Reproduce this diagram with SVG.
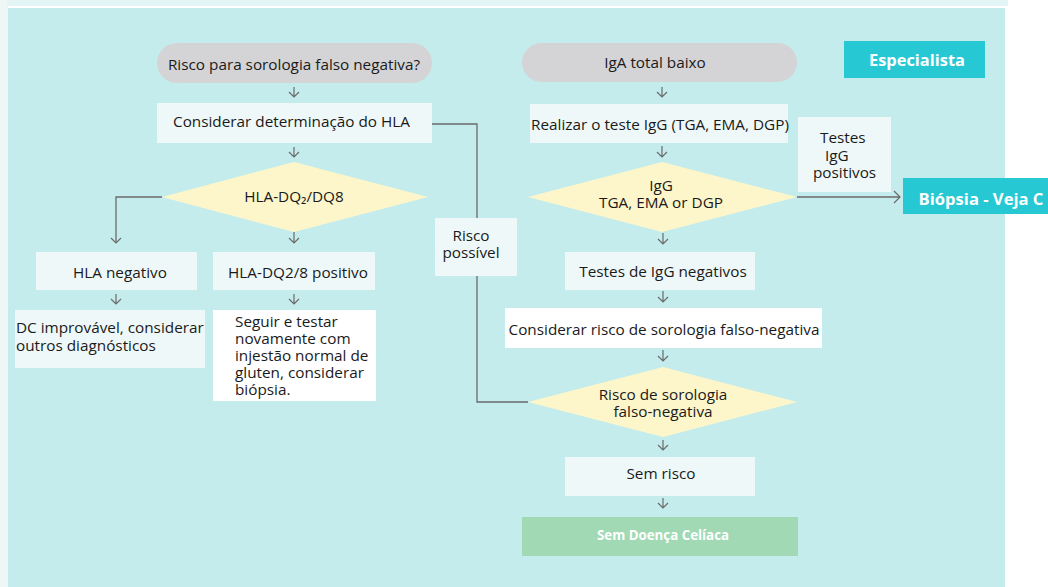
<svg xmlns="http://www.w3.org/2000/svg" width="1048" height="587" viewBox="0 0 1048 587">
<defs>
<style>
.t{font-family:"Open Sans","Liberation Sans",sans-serif;font-size:15.3px;fill:#1a1a1a}
.c{text-anchor:middle}
.w{font-family:"Open Sans","Liberation Sans",sans-serif;font-weight:bold;fill:#ffffff;text-anchor:middle}
.box{fill:#eef8f8}
.wb{fill:#ffffff}
.pill{fill:#d4d4d6}
.dia{fill:#fdf6ca}
.teal{fill:#26c9d3}
.ln{fill:none;stroke:#6a6a6a;stroke-width:1.3}
.ar{fill:none;stroke:#6a6a6a;stroke-width:1.2}
</style>
</defs>
<rect x="0" y="0" width="1048" height="587" fill="#ffffff"/>
<rect x="0" y="0" width="8" height="587" fill="#eef6f6"/>
<rect x="7" y="0" width="1001" height="6" fill="#e4f5f5"/>
<rect x="8" y="8" width="997" height="579" fill="#c5ecec"/>

<g id="connectors">
<path class="ln" d="M432,124 H477 V402 H528"/>
<path class="ln" d="M162,197 H116 V243"/>
<path class="ar" d="M111,238 L116,243 L121,238"/>
<path class="ln" d="M797,197 H900"/>
<path class="ar" d="M894,191 L900,197 L894,203"/>
<path class="ar" d="M294,87 V97 M289,92 L294,97 L299,92"/>
<path class="ar" d="M294,147 V157 M289,152 L294,157 L299,152"/>
<path class="ar" d="M294,232 V243 M289,238 L294,243 L299,238"/>
<path class="ar" d="M116,294 V304 M111,299 L116,304 L121,299"/>
<path class="ar" d="M294,294 V304 M289,299 L294,304 L299,299"/>
<path class="ar" d="M662,87 V97 M657,92 L662,97 L667,92"/>
<path class="ar" d="M662,146 V157 M657,152 L662,157 L667,152"/>
<path class="ar" d="M663,233 V244 M658,239 L663,244 L668,239"/>
<path class="ar" d="M663,291 V302 M658,297 L663,302 L668,297"/>
<path class="ar" d="M663,350 V361 M658,356 L663,361 L668,356"/>
<path class="ar" d="M663,440 V450 M658,445 L663,450 L668,445"/>
<path class="ar" d="M663,498 V508 M658,503 L663,508 L668,503"/>
</g>

<g id="n-risco-falso">
<rect class="pill" x="157" y="43" width="275" height="40" rx="20"/>
<text class="t c" x="294" y="70" font-size="16.8">Risco para sorologia falso negativa?</text>
</g>
<g id="n-considerar-hla">
<rect class="box" x="157" y="103" width="275" height="40"/>
<text class="t" x="173" y="127" font-size="16.4">Considerar determinação do HLA</text>
</g>
<g id="n-hla-dq">
<polygon class="dia" points="294,162 428,197 294,232 162,197"/>
<text class="t c" x="294" y="202" font-size="14.7">HLA-DQ₂/DQ8</text>
</g>
<g id="n-hla-neg">
<rect class="box" x="36" y="252" width="161" height="38"/>
<text class="t c" x="120" y="278" font-size="14.5">HLA negativo</text>
</g>
<g id="n-hla-pos">
<rect class="box" x="213" y="252" width="162" height="38"/>
<text class="t c" x="298" y="278">HLA-DQ2/8 positivo</text>
</g>
<g id="n-dc-improvavel">
<rect class="box" x="15" y="310" width="190" height="58"/>
<text class="t" x="16" y="333">DC improvável, considerar<tspan x="16" dy="18">outros diagnósticos</tspan></text>
</g>
<g id="n-seguir">
<rect class="wb" x="213" y="310" width="163" height="91"/>
<text class="t" x="235" y="327">Seguir e testar<tspan x="235" dy="17">novamente com</tspan><tspan x="235" dy="17">injestão normal de</tspan><tspan x="235" dy="17">gluten, considerar</tspan><tspan x="235" dy="17">biópsia.</tspan></text>
</g>
<g id="n-risco-possivel">
<rect class="box" x="435" y="218" width="82" height="58"/>
<text class="t c" x="471" y="241" font-size="16">Risco<tspan x="471" dy="17">possível</tspan></text>
</g>

<g id="n-iga">
<rect class="pill" x="522" y="43" width="275" height="39" rx="19.5"/>
<text class="t c" x="655" y="68" font-size="16">IgA total baixo</text>
</g>
<g id="n-especialista">
<rect class="teal" x="844" y="41" width="141" height="37"/>
<text class="w" x="917" y="66" font-size="16.4">Especialista</text>
</g>
<g id="n-realizar">
<rect class="box" x="530" y="104" width="258" height="39"/>
<text class="t c" x="660" y="130">Realizar o teste IgG (TGA, EMA, DGP)</text>
</g>
<g id="n-testes-pos">
<rect class="box" x="798" y="117" width="93" height="75"/>
<text class="t" x="820" y="143" font-size="16">Testes<tspan x="825" dy="18">IgG</tspan><tspan x="813" dy="17">positivos</tspan></text>
</g>
<g id="n-igg">
<polygon class="dia" points="662,162 797,197 662,232 528,197"/>
<text class="t c" x="661" y="191" font-size="14">IgG<tspan x="661" dy="17">TGA, EMA or DGP</tspan></text>
</g>
<g id="n-biopsia">
<rect class="teal" x="903" y="178" width="145" height="36"/>
<text class="w" x="981" y="205" font-size="16.6">Biópsia - Veja C</text>
</g>
<g id="n-testes-neg">
<rect class="box" x="565" y="252" width="190" height="38"/>
<text class="t c" x="663" y="277">Testes de IgG negativos</text>
</g>
<g id="n-considerar-risco">
<rect class="wb" x="505" y="308" width="317" height="40"/>
<text class="t c" x="664" y="335">Considerar risco de sorologia falso-negativa</text>
</g>
<g id="n-risco-sorologia">
<polygon class="dia" points="663,367 797,402 663,437 528,402"/>
<text class="t c" x="663" y="400">Risco de sorologia<tspan x="663" dy="17">falso-negativa</tspan></text>
</g>
<g id="n-sem-risco">
<rect class="box" x="565" y="457" width="190" height="39"/>
<text class="t c" x="661" y="479">Sem risco</text>
</g>
<g id="n-sem-doenca">
<rect x="522" y="517" width="276" height="39" fill="#a0d9b3"/>
<text class="w" x="663" y="540" font-size="13.3" font-weight="600">Sem Doença Celíaca</text>
</g>
</svg>
